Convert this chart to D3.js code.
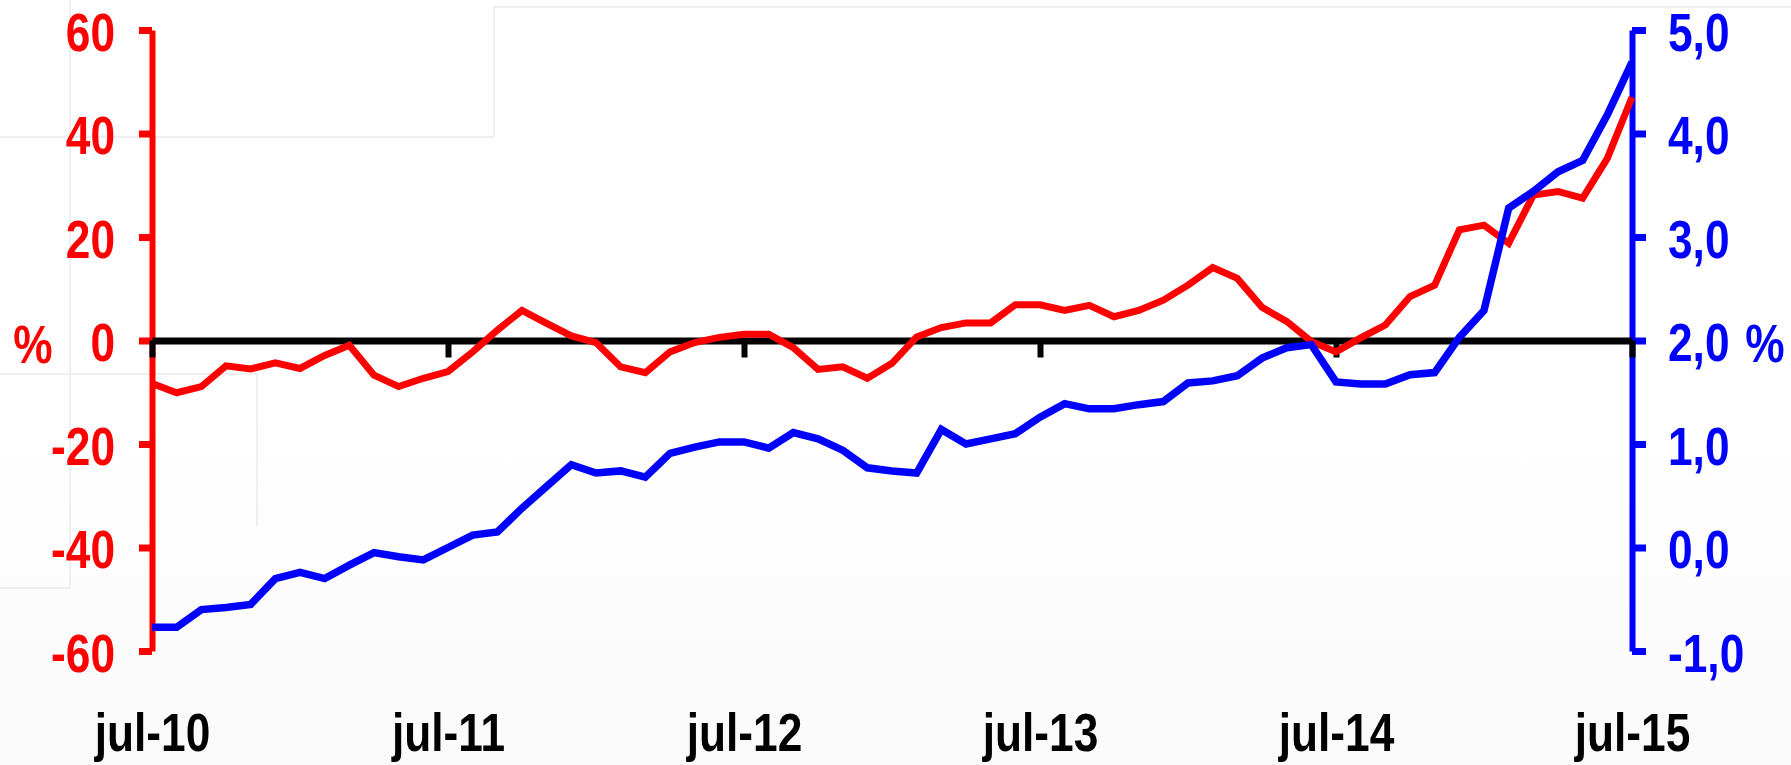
<!DOCTYPE html>
<html>
<head>
<meta charset="utf-8">
<script src="https://cdn.jsdelivr.net/npm/d3@7"></script>
<style>
  html, body { margin: 0; padding: 0; background: #ffffff; }
  svg { display: block; }
</style>
</head>
<body>
<svg id="chart" width="1791" height="765"></svg>
<script>
// ---- data ----
const months = d3.range(0, 61); // jul-10 .. jul-15, monthly
const xTickLabels = ["jul-10", "jul-11", "jul-12", "jul-13", "jul-14", "jul-15"];
const xTickIndex = [0, 12, 24, 36, 48, 60];
const leftTicks = [-60, -40, -20, 0, 20, 40, 60];
const rightTicks = [-1, 0, 1, 2, 3, 4, 5];
const redSeries = [
  -8.3, -10.1, -8.9, -4.9, -5.5, -4.3, -5.4, -2.9, -0.9, -6.7,
  -8.9, -7.3, -6.0, -2.2, 2.0, 5.8, 3.3, 0.9, -0.4, -5.1,
  -6.2, -2.2, -0.4, 0.6, 1.2, 1.2, -1.4, -5.6, -5.1, -7.3,
  -4.4, 0.7, 2.5, 3.4, 3.4, 6.9, 6.9, 5.8, 6.8, 4.6,
  5.8, 7.8, 10.7, 14.1, 12.0, 6.4, 3.7, -0.2, -2.2, 0.5,
  3.0, 8.5, 10.7, 21.4, 22.3, 18.8, 28.1, 28.8, 27.5, 35.2,
  47.0
];
const blueSeries = [
  -0.77, -0.77, -0.60, -0.58, -0.55, -0.30, -0.24, -0.30, -0.17, -0.05,
  -0.09, -0.12, 0.00, 0.12, 0.15, 0.38, 0.59, 0.80, 0.72, 0.74,
  0.68, 0.91, 0.97, 1.02, 1.02, 0.96, 1.11, 1.05, 0.94, 0.77,
  0.74, 0.72, 1.14, 1.00, 1.05, 1.10, 1.26, 1.39, 1.34, 1.34,
  1.38, 1.41, 1.59, 1.61, 1.66, 1.83, 1.93, 1.96, 1.60, 1.58,
  1.58, 1.67, 1.69, 2.03, 2.29, 3.28, 3.44, 3.63, 3.74, 4.18,
  4.69
];

// ---- font detection ----
function hasFont(name) {
  const c = document.createElement("canvas").getContext("2d");
  const s = "jul-10 5,0 % -60";
  c.font = "bold 40px monospace";
  const a = c.measureText(s).width;
  c.font = `bold 40px "${name}", monospace`;
  const b = c.measureText(s).width;
  return Math.abs(a - b) > 0.5;
}
const narrow = hasFont("Liberation Sans Narrow");
const FONT = narrow ? "'Liberation Sans Narrow', 'Liberation Sans', Arial, sans-serif" : "'Liberation Sans', Arial, sans-serif";
const SX = narrow ? 1 : 0.82;
const FS = 54;

const svg = d3.select("#chart");

// ---- background ----
const defs = svg.append("defs");
const grad = defs.append("linearGradient").attr("id", "bg").attr("x1", 0).attr("y1", 0).attr("x2", 0).attr("y2", 1);
grad.append("stop").attr("offset", "0.55").attr("stop-color", "#ffffff");
grad.append("stop").attr("offset", "1").attr("stop-color", "#fafafa");
svg.append("rect").attr("width", 1791).attr("height", 765).attr("fill", "url(#bg)");

const faint = svg.append("g").attr("stroke", "#efefef").attr("stroke-width", 2).attr("fill", "none");
faint.append("path").attr("d", "M0,137H494V7H1791");
faint.append("path").attr("d", "M70,0V588H0");
faint.append("path").attr("d", "M0,374H257V527");

// ---- scales ----
const x = d3.scaleLinear().domain([0, 60]).range([152, 1632]);
const yL = d3.scaleLinear().domain([-60, 60]).range([651, 30]);
const yR = d3.scaleLinear().domain([-1, 5]).range([651, 30]);

function styleText(sel, color, anchor) {
  sel.attr("font-family", FONT)
     .attr("font-weight", "bold")
     .attr("font-size", FS)
     .attr("fill", color)
     .attr("text-anchor", anchor);
}

// ---- left axis ----
const gL = svg.append("g").attr("transform", `translate(${x(0)},0)`)
  .call(d3.axisLeft(yL).tickValues(leftTicks).tickSize(13).tickSizeOuter(0).tickFormat(d => String(d)));
gL.select(".domain").attr("stroke", "#ff0000").attr("stroke-width", 6);
gL.selectAll(".tick line").attr("stroke", "#ff0000").attr("stroke-width", 7);
gL.selectAll(".tick text")
  .call(styleText, "#ff0000", "end")
  .attr("x", null).attr("dy", null)
  .attr("transform", `translate(-37,20) scale(${SX},1)`);

// ---- right axis ----
const gR = svg.append("g").attr("transform", `translate(${x(60)},0)`)
  .call(d3.axisRight(yR).tickValues(rightTicks).tickSize(14).tickSizeOuter(0)
    .tickFormat(d => d.toFixed(1).replace(".", ",")));
gR.select(".domain").attr("stroke", "#0000ff").attr("stroke-width", 6);
gR.selectAll(".tick line").attr("stroke", "#0000ff").attr("stroke-width", 7);
gR.selectAll(".tick text")
  .call(styleText, "#0000ff", "start")
  .attr("x", null).attr("dy", null)
  .attr("transform", `translate(36,20) scale(${SX},1)`);

// unit labels
svg.append("text").text("%")
  .call(styleText, "#ff0000", "middle")
  .attr("transform", `translate(33,363) scale(${SX},1)`);
svg.append("text").text("%")
  .call(styleText, "#0000ff", "middle")
  .attr("transform", `translate(1765,362) scale(${SX},1)`);

// ---- x axis (zero line) ----
const gX = svg.append("g").attr("transform", `translate(0,${yL(0)})`)
  .call(d3.axisBottom(x).tickValues(xTickIndex).tickSize(17).tickSizeOuter(0)
    .tickFormat((d, i) => xTickLabels[i]));
gX.select(".domain").attr("stroke", "#000000").attr("stroke-width", 7);
gX.selectAll(".tick line").attr("stroke", "#000000").attr("stroke-width", 6);
gX.selectAll(".tick text")
  .call(styleText, "#000000", "middle")
  .attr("y", null).attr("dy", null)
  .attr("transform", `translate(0,${751 - yL(0)}) scale(${SX},1)`);

// ---- series ----
const lineRed = d3.line().x((d, i) => x(months[i])).y(d => yL(d));
const lineBlue = d3.line().x((d, i) => x(months[i])).y(d => yR(d));

svg.append("path").datum(redSeries)
  .attr("d", lineRed)
  .attr("fill", "none").attr("stroke", "#ff0000").attr("stroke-width", 7)
  .attr("stroke-linejoin", "miter").attr("stroke-miterlimit", 4);
svg.append("path").datum(blueSeries)
  .attr("d", lineBlue)
  .attr("fill", "none").attr("stroke", "#0000ff").attr("stroke-width", 7.5)
  .attr("stroke-linejoin", "miter").attr("stroke-miterlimit", 4);
</script>
</body>
</html>
